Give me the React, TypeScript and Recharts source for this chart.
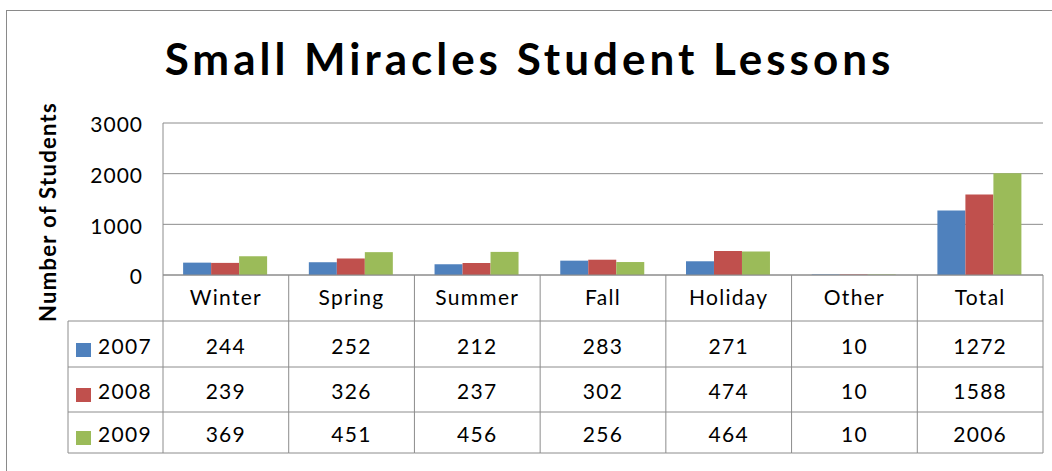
import { BarChart, Bar, XAxis, YAxis, CartesianGrid } from 'recharts'

const categories = ['Winter', 'Spring', 'Summer', 'Fall', 'Holiday', 'Other', 'Total']
const years = ['2007', '2008', '2009']
const values2007 = [244, 252, 212, 283, 271, 10, 1272]
const values2008 = [239, 326, 237, 302, 474, 10, 1588]
const values2009 = [369, 451, 456, 256, 464, 10, 2006]
const yTicks = [0, 1000, 2000, 3000]

const seriesValues = [values2007, values2008, values2009]
const colors = ['#4F81BD', '#C0504D', '#9BBB59']

const data = categories.map((c, i) => ({
  name: c,
  y2007: values2007[i],
  y2008: values2008[i],
  y2009: values2009[i],
}))

const CHART_W = 1045
const CHART_H = 460
const MARGIN = { top: 112, right: 9, bottom: 18, left: 0 }
const Y_W = 156
const PLOT_W = CHART_W - MARGIN.left - MARGIN.right - Y_W
const ROW_Y = [0, 46, 92, 137, 178]
const TEXT_Y = [30, 79, 124, 167]
const LEG_LEFT = 61
const FONT = 'Lato, "Open Sans", sans-serif'
const GRID = '#8c8c8c'

function TableTick(props: any) {
  const { x, y, index, payload } = props
  const colW = PLOT_W / categories.length
  const left = x - colW / 2
  const right = x + colW / 2
  const bottom = y + ROW_Y[ROW_Y.length - 1]
  return (
    <g fontFamily={FONT} fontSize={21} fill="#000" letterSpacing={1.3}>
      {index === 0 && (
        <g>
          <line x1={left} x2={left} y1={y} y2={bottom} stroke={GRID} />
          <line x1={LEG_LEFT} x2={LEG_LEFT} y1={y + ROW_Y[1]} y2={bottom} stroke={GRID} />
          {ROW_Y.slice(1).map((r) => (
            <line key={r} x1={LEG_LEFT} x2={left} y1={y + r} y2={y + r} stroke={GRID} />
          ))}
          {years.map((yr, k) => (
            <g key={yr}>
              <rect x={LEG_LEFT + 8} y={y + TEXT_Y[k + 1] - 11} width={15} height={14} fill={colors[k]} />
              <text x={LEG_LEFT + 30} y={y + TEXT_Y[k + 1]} textAnchor="start">{yr}</text>
            </g>
          ))}
        </g>
      )}
      <line x1={right} x2={right} y1={y} y2={bottom} stroke={GRID} />
      {ROW_Y.slice(1).map((r) => (
        <line key={r} x1={left} x2={right} y1={y + r} y2={y + r} stroke={GRID} />
      ))}
      <text x={x} y={y + TEXT_Y[0]} textAnchor="middle">{payload.value}</text>
      {seriesValues.map((vals, k) => (
        <text key={k} x={x} y={y + TEXT_Y[k + 1]} textAnchor="middle">{vals[index]}</text>
      ))}
    </g>
  )
}

export default function App() {
  return (
    <div
      style={{
        position: 'absolute',
        left: 6,
        top: 10,
        width: 1060,
        height: 470,
        borderTop: '1px solid #8a8a8a',
        borderLeft: '1px solid #8a8a8a',
        background: '#fff',
        overflow: 'hidden',
      }}
    >
      <div
        style={{
          position: 'absolute',
          left: 0,
          top: 25,
          width: CHART_W,
          textAlign: 'center',
          fontFamily: FONT,
          fontWeight: 'bold',
          fontSize: 44,
          lineHeight: '44px',
          letterSpacing: 4,
          whiteSpace: 'nowrap',
        }}
      >
        Small Miracles Student Lessons
      </div>
      <div
        style={{
          position: 'absolute',
          left: 40,
          top: 201,
          transform: 'translate(-50%, -50%) rotate(-90deg)',
          fontFamily: FONT,
          fontWeight: 'bold',
          fontSize: 22,
          letterSpacing: 1.3,
          whiteSpace: 'nowrap',
        }}
      >
        Number of Students
      </div>
      <div style={{ position: 'absolute', left: 0, top: 0 }}>
        <BarChart width={CHART_W} height={CHART_H} data={data} margin={MARGIN} barCategoryGap="16%" barGap={0}>
          <CartesianGrid vertical={false} stroke={GRID} />
          <XAxis
            dataKey="name"
            height={178}
            tickSize={0}
            tickMargin={0}
            tickLine={false}
            axisLine={{ stroke: GRID }}
            tick={<TableTick />}
            interval={0}
          />
          <YAxis
            width={Y_W}
            domain={[0, 3000]}
            ticks={yTicks}
            tickLine={false}
            tickSize={0}
            tickMargin={20}
            axisLine={{ stroke: GRID }}
            tick={{ fontSize: 21, fill: '#000', fontFamily: FONT, dy: 2, letterSpacing: 1 }}
          />
          <Bar dataKey="y2007" name="2007" fill={colors[0]} isAnimationActive={false} />
          <Bar dataKey="y2008" name="2008" fill={colors[1]} isAnimationActive={false} />
          <Bar dataKey="y2009" name="2009" fill={colors[2]} isAnimationActive={false} />
        </BarChart>
      </div>
    </div>
  )
}
